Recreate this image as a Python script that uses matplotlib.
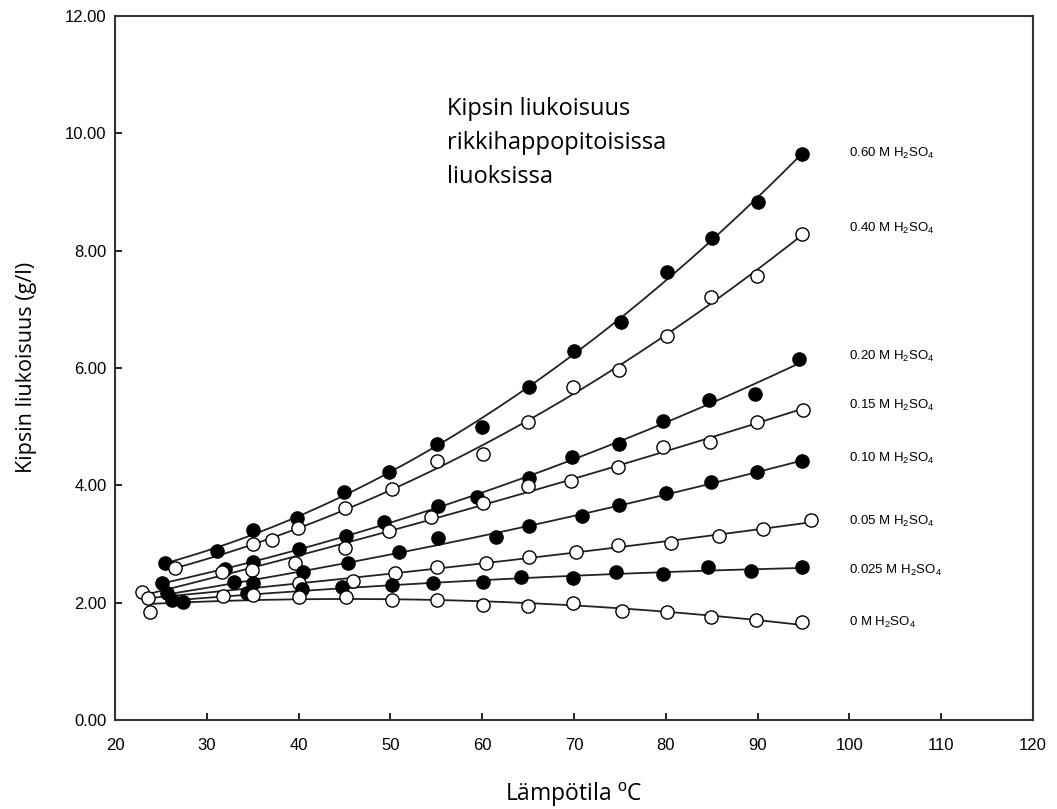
import numpy as np
import matplotlib
matplotlib.use("Agg")
import matplotlib.pyplot as plt

plt.rcParams["font.family"] = ["Liberation Sans", "DejaVu Sans"]
plt.rcParams["mathtext.fontset"] = "custom"
plt.rcParams["mathtext.rm"] = "Liberation Sans"
plt.rcParams["mathtext.it"] = "Liberation Sans"
plt.rcParams["mathtext.bf"] = "Liberation Sans"

# lämpötila (°C) ja liukoisuus (g/l) kullekin H2SO4-pitoisuudelle
t060 = [25.4, 31.1, 35.0, 39.8, 44.9, 49.8, 55.1, 60.0, 65.1, 70.0, 75.1, 80.1, 85.0, 90.0, 94.8]
s060 = [2.67, 2.88, 3.23, 3.44, 3.88, 4.22, 4.70, 5.00, 5.68, 6.28, 6.79, 7.63, 8.22, 8.82, 9.65]

t040 = [26.5, 35.0, 37.1, 39.9, 45.1, 50.2, 55.1, 60.1, 65.0, 69.9, 74.9, 80.1, 84.9, 89.9, 94.8]
s040 = [2.59, 3.00, 3.06, 3.27, 3.61, 3.93, 4.41, 4.54, 5.07, 5.67, 5.97, 6.55, 7.20, 7.57, 8.29]

t020 = [25.1, 32.0, 35.0, 40.0, 45.2, 49.3, 55.2, 59.4, 65.1, 69.8, 74.9, 79.7, 84.7, 89.7, 94.5]
s020 = [2.33, 2.57, 2.69, 2.91, 3.13, 3.37, 3.64, 3.80, 4.12, 4.49, 4.71, 5.09, 5.45, 5.56, 6.16]

t015 = [22.9, 31.7, 34.9, 39.6, 45.1, 49.8, 54.4, 60.1, 65.0, 69.7, 74.8, 79.7, 84.8, 89.9, 94.9]
s015 = [2.18, 2.52, 2.55, 2.67, 2.93, 3.22, 3.46, 3.69, 3.99, 4.07, 4.31, 4.66, 4.73, 5.07, 5.28]

t010 = [25.7, 33.0, 35.0, 40.5, 45.4, 50.9, 55.2, 61.5, 65.1, 70.9, 74.9, 80.0, 84.9, 89.9, 94.8]
s010 = [2.16, 2.35, 2.33, 2.52, 2.68, 2.86, 3.10, 3.11, 3.30, 3.47, 3.66, 3.86, 4.05, 4.22, 4.41]

t005 = [23.6, 40.0, 45.9, 50.5, 55.1, 60.4, 65.1, 70.2, 74.8, 80.6, 85.8, 90.6, 95.8]
s005 = [2.08, 2.34, 2.37, 2.50, 2.61, 2.68, 2.78, 2.86, 2.98, 3.01, 3.13, 3.25, 3.40]

t0025 = [26.2, 27.4, 34.4, 40.4, 44.7, 50.2, 54.6, 60.1, 64.2, 69.9, 74.6, 79.7, 84.6, 89.3, 94.8]
s0025 = [2.04, 2.01, 2.16, 2.23, 2.26, 2.30, 2.33, 2.35, 2.43, 2.42, 2.52, 2.48, 2.60, 2.54, 2.60]

t000 = [23.8, 31.8, 35.0, 40.0, 45.2, 50.2, 55.1, 60.1, 65.0, 69.9, 75.2, 80.1, 84.9, 89.8, 94.8]
s000 = [1.84, 2.12, 2.13, 2.09, 2.09, 2.04, 2.04, 1.96, 1.95, 2.00, 1.86, 1.84, 1.76, 1.70, 1.67]

series = [
    ("0.60", t060, s060, True, 9.65),
    ("0.40", t040, s040, False, 8.37),
    ("0.20", t020, s020, True, 6.20),
    ("0.15", t015, s015, False, 5.36),
    ("0.10", t010, s010, True, 4.46),
    ("0.05", t005, s005, False, 3.39),
    ("0.025", t0025, s0025, True, 2.55),
    ("0", t000, s000, False, 1.67),
]

fig = plt.figure(figsize=(10.57, 8.09), dpi=100)
ax = fig.add_axes([0.1088, 0.110, 0.8685, 0.8705])

for conc, t, s, filled, ylab in series:
    t = np.array(t)
    s = np.array(s)
    coef = np.polyfit(t, s, 2)
    xx = np.linspace(t.min(), t.max(), 200)
    ax.plot(xx, np.polyval(coef, xx), color="#222222", lw=1.3, zorder=2)
    ax.plot(t, s, "o", ms=9.5, mec="black", mew=1.0,
            mfc="black" if filled else "white", zorder=3)
    ax.text(100.0, ylab, conc + r" M H$_2$SO$_4$", fontsize=9.5,
            ha="left", va="center")

ax.set_xlim(20, 120)
ax.set_ylim(0, 12)
ax.set_xticks(range(20, 121, 10))
ax.set_yticks(range(0, 13, 2))
ax.set_yticklabels(["%.2f" % v for v in range(0, 13, 2)])
ax.tick_params(direction="in", length=5, width=1.2, labelsize=12, pad=6)
ax.tick_params(axis="x", pad=13)
for sp in ax.spines.values():
    sp.set_linewidth(1.5)
    sp.set_color("#333333")

ax.set_ylabel("Kipsin liukoisuus (g/l)", family="Open Sans", fontsize=15.5, labelpad=20)
ax.set_xlabel(r"Lämpötila $^{\mathrm{o}}$C", family="Open Sans", fontsize=16.5, labelpad=20)

ax.text(0.362, 0.885, "Kipsin liukoisuus\nrikkihappopitoisissa\nliuoksissa",
        transform=ax.transAxes, family="Open Sans", fontsize=17,
        ha="left", va="top", linespacing=1.55)

fig.savefig("out.png", dpi=100)
